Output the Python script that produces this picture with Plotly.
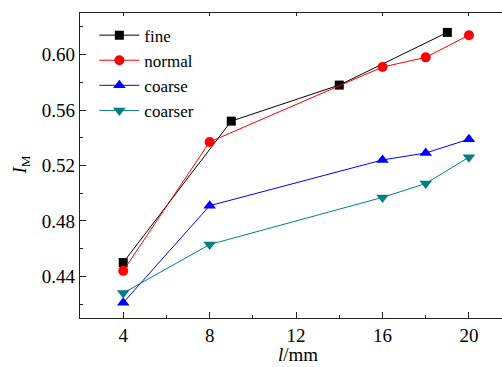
import plotly.graph_objects as go

fine_x = [4, 9, 14, 19]
fine_y = [0.450, 0.552, 0.578, 0.616]
normal_x = [4, 8, 16, 18, 20]
normal_y = [0.444, 0.537, 0.591, 0.598, 0.614]
coarse_x = [4, 8, 16, 18, 20]
coarse_y = [0.421, 0.491, 0.524, 0.529, 0.539]
coarser_x = [4, 8, 16, 18, 20]
coarser_y = [0.428, 0.463, 0.497, 0.507, 0.526]

x_ticks = [4, 8, 12, 16, 20]
y_ticks = [0.44, 0.48, 0.52, 0.56, 0.60]
y_tick_labels = ["0.44", "0.48", "0.52", "0.56", "0.60"]

FONT = "'Liberation Serif', 'Times New Roman', 'DejaVu Serif', serif"
X_RANGE = [2, 21.53]

fig = go.Figure()
series = [
    ("fine", fine_x, fine_y, "black", "square", 9),
    ("normal", normal_x, normal_y, "red", "circle", 10),
    ("coarse", coarse_x, coarse_y, "blue", "triangle-up", 11),
    ("coarser", coarser_x, coarser_y, "#008080", "triangle-down", 11),
]
for name, xs, ys, col, sym, sz in series:
    fig.add_trace(go.Scatter(
        x=xs, y=ys, name=name, mode="lines+markers",
        line=dict(color=col, width=1),
        marker=dict(symbol=sym, size=sz, color=col, line=dict(width=0)),
    ))

axis_common = dict(
    showline=True, linecolor="#222", linewidth=1.2, mirror=False,
    ticks="inside", ticklen=6, tickcolor="#222", tickwidth=1,
    showgrid=False, zeroline=False, automargin=False,
    tickfont=dict(family=FONT, size=19, color="black"),
)

fig.update_layout(
    xaxis=dict(
        range=X_RANGE, tickmode="array", tickvals=x_ticks,
        minor=dict(ticks="inside", ticklen=3, dtick=2, tick0=0, tickcolor="#222", showgrid=False),
        **axis_common,
    ),
    xaxis2=dict(
        overlaying="x", side="top", matches="x", range=X_RANGE,
        showline=True, linecolor="#222", linewidth=1.2,
        ticks="inside", ticklen=3, tickcolor="#222", tickmode="array", tickvals=x_ticks,
        showticklabels=False, showgrid=False, zeroline=False, automargin=False,
    ),
    yaxis=dict(
        range=[0.41, 0.63], tickmode="array", tickvals=y_ticks, ticktext=y_tick_labels,
        minor=dict(ticks="inside", ticklen=3, dtick=0.02, tick0=0, tickcolor="#222", showgrid=False),
        **axis_common,
    ),
)
# invisible trace to activate the top axis
fig.add_trace(go.Scatter(x=[fine_x[0]], y=[fine_y[0]], xaxis="x2", mode="markers",
                         marker=dict(opacity=0), showlegend=False, hoverinfo="skip"))

fig.add_annotation(
    text="<i>l</i>/mm", xref="paper", yref="paper", x=0.516, y=-0.08,
    xanchor="center", yanchor="top", showarrow=False,
    font=dict(family=FONT, size=19, color="black"),
)
fig.add_annotation(
    text="<i>I</i><sub>M</sub>", xref="paper", yref="paper", x=-0.142, y=0.5,
    xanchor="center", yanchor="middle", showarrow=False, textangle=-90,
    font=dict(family=FONT, size=19, color="black"),
)

fig.update_layout(
    width=502, height=367,
    margin=dict(l=80, r=0, t=13, b=49),
    paper_bgcolor="white", plot_bgcolor="white",
    showlegend=True,
    legend=dict(
        x=0.034, y=0.985, xanchor="left", yanchor="top",
        bgcolor="rgba(0,0,0,0)", borderwidth=0,
        font=dict(family=FONT, size=17, color="black"),
        itemwidth=40, tracegroupgap=0,
    ),
)

fig.write_html("out.html", config={"displayModeBar": False},
               post_script="document.body.style.margin='0';document.body.style.overflow='hidden';")
